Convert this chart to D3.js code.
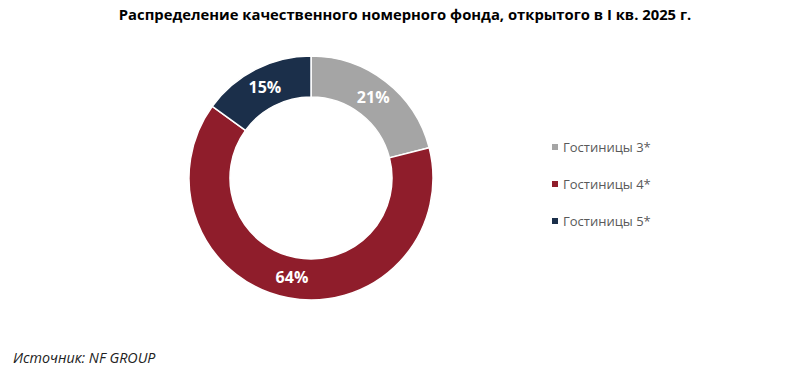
<!DOCTYPE html>
<html>
<head>
<meta charset="utf-8">
<script src="https://cdn.jsdelivr.net/npm/d3@7"></script>
<style>
  body { margin: 0; background: #fff; }
  svg { display: block; font-family: "Open Sans", sans-serif; }
</style>
</head>
<body>
<svg id="chart" width="797" height="371"></svg>
<script>
// Chart data
const categories = ['Гостиницы 3*', 'Гостиницы 4*', 'Гостиницы 5*'];
const shares = [21, 64, 15];
const colors = ['#a5a5a5', '#8f1d2b', '#1b2f4a'];

const svg = d3.select('#chart');

// Title
svg.append('text')
    .attr('x', 405)
    .attr('y', 20)
    .attr('text-anchor', 'middle')
    .attr('font-size', '14.8px')
    .attr('font-weight', 'bold')
    .attr('fill', '#000')
    .text('Распределение качественного номерного фонда, открытого в I кв. 2025 г.');

// Donut
const cx = 311, cy = 178;
const outerR = 122, innerR = 81;

const pie = d3.pie().sort(null).value(d => d.value);
const arc = d3.arc().innerRadius(innerR).outerRadius(outerR);
const labelArc = d3.arc().innerRadius((innerR + outerR) / 2).outerRadius((innerR + outerR) / 2);

const data = categories.map((c, i) => ({ name: c, value: shares[i], color: colors[i] }));
const arcs = pie(data);

const g = svg.append('g').attr('transform', `translate(${cx},${cy})`);

g.selectAll('path')
    .data(arcs)
    .join('path')
    .attr('d', arc)
    .attr('fill', d => d.data.color)
    .attr('stroke', '#fff')
    .attr('stroke-width', 1.5);

g.selectAll('text')
    .data(arcs)
    .join('text')
    .attr('transform', d => `translate(${labelArc.centroid(d)})`)
    .attr('text-anchor', 'middle')
    .attr('dy', '0.35em')
    .attr('font-size', '16px')
    .attr('font-weight', 'bold')
    .attr('fill', '#fff')
    .text(d => d.data.value + '%');

// Legend
const legend = svg.append('g')
    .selectAll('g')
    .data(data)
    .join('g')
    .attr('transform', (d, i) => `translate(552,${147 + i * 37})`);

legend.append('rect')
    .attr('x', 0)
    .attr('y', -3)
    .attr('width', 6)
    .attr('height', 6)
    .attr('fill', d => d.color);

legend.append('text')
    .attr('x', 11)
    .attr('dy', '0.35em')
    .attr('font-size', '13px')
    .attr('fill', '#595959')
    .text(d => d.name);

// Source
svg.append('text')
    .attr('x', 13)
    .attr('y', 363)
    .attr('font-size', '14.3px')
    .attr('font-style', 'italic')
    .attr('fill', '#222')
    .text('Источник: NF GROUP');
</script>
</body>
</html>
